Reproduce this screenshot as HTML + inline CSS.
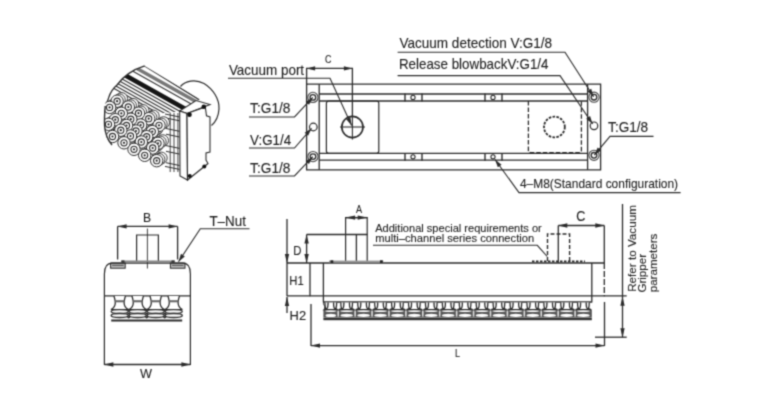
<!DOCTYPE html>
<html><head><meta charset="utf-8"><style>
html,body{margin:0;padding:0;background:#fff;}
svg{display:block;will-change:transform;}
text{font-family:"Liberation Sans",sans-serif;}
</style></head><body>
<svg width="780" height="420" viewBox="0 0 780 420">
<defs><filter id="bl" x="0" y="0" width="100%" height="100%" filterUnits="userSpaceOnUse" color-interpolation-filters="sRGB"><feConvolveMatrix order="3" kernelMatrix="0.03607 0.11778 0.03607 0.11778 0.38462 0.11778 0.03607 0.11778 0.03607" divisor="1" edgeMode="none" preserveAlpha="false"/></filter></defs>
<rect width="780" height="420" fill="#fff"/>
<g filter="url(#bl)">
<path d="M306.6,84.2 H600.6 V169.8 H306.6 Z" fill="none" stroke="#2b2b2b" stroke-width="1.3" />
<line x1="319.2" y1="84.2" x2="319.2" y2="169.8" stroke="#2b2b2b" stroke-width="1.3" />
<line x1="587.6" y1="84.2" x2="587.6" y2="169.8" stroke="#2b2b2b" stroke-width="1.3" />
<line x1="319.2" y1="94.0" x2="587.6" y2="94.0" stroke="#2b2b2b" stroke-width="1.3" />
<line x1="319.2" y1="101.0" x2="587.6" y2="101.0" stroke="#2b2b2b" stroke-width="1.3" />
<line x1="319.2" y1="153.4" x2="587.6" y2="153.4" stroke="#2b2b2b" stroke-width="1.3" />
<line x1="319.2" y1="160.2" x2="587.6" y2="160.2" stroke="#2b2b2b" stroke-width="1.3" />
<line x1="405" y1="93.5" x2="405" y2="101.5" stroke="#2b2b2b" stroke-width="1.4" />
<line x1="422" y1="93.5" x2="422" y2="101.5" stroke="#2b2b2b" stroke-width="1.4" />
<circle cx="413" cy="97.4" r="2.1" fill="none" stroke="#2b2b2b" stroke-width="1.1" />
<line x1="485" y1="93.5" x2="485" y2="101.5" stroke="#2b2b2b" stroke-width="1.4" />
<line x1="502" y1="93.5" x2="502" y2="101.5" stroke="#2b2b2b" stroke-width="1.4" />
<circle cx="493" cy="97.4" r="2.1" fill="none" stroke="#2b2b2b" stroke-width="1.1" />
<line x1="405" y1="152.9" x2="405" y2="160.7" stroke="#2b2b2b" stroke-width="1.4" />
<line x1="422" y1="152.9" x2="422" y2="160.7" stroke="#2b2b2b" stroke-width="1.4" />
<circle cx="413" cy="156.8" r="2.1" fill="none" stroke="#2b2b2b" stroke-width="1.1" />
<line x1="485" y1="152.9" x2="485" y2="160.7" stroke="#2b2b2b" stroke-width="1.4" />
<line x1="502" y1="152.9" x2="502" y2="160.7" stroke="#2b2b2b" stroke-width="1.4" />
<circle cx="493" cy="156.8" r="2.1" fill="none" stroke="#2b2b2b" stroke-width="1.1" />
<path d="M329,101 H376.5 Q378.8,101 378.8,103.3 V151 Q378.8,153.3 376.5,153.3 H328.7 Q326.4,153.3 326.4,151 V103.3 Q326.4,101 329,101 Z" fill="none" stroke="#2b2b2b" stroke-width="1.2" />
<circle cx="352.4" cy="127" r="10.6" fill="none" stroke="#2b2b2b" stroke-width="1.7" />
<line x1="340" y1="127" x2="365" y2="127" stroke="#2b2b2b" stroke-width="1.1" />
<line x1="352.4" y1="115" x2="352.4" y2="139.5" stroke="#2b2b2b" stroke-width="1.1" />
<path d="M528.4,101 V150.4 Q528.4,152.6 530.8,152.6 H579 Q581.4,152.6 581.4,150.4 V101" fill="none" stroke="#2b2b2b" stroke-width="1.3" stroke-dasharray="4.5,2"/>
<circle cx="554.4" cy="127" r="10.4" fill="none" stroke="#2b2b2b" stroke-width="1.8" stroke-dasharray="2.6,1.3"/>
<circle cx="312.9" cy="97.4" r="5.1" fill="none" stroke="#444" stroke-width="1.1" />
<circle cx="312.9" cy="97.4" r="2.8" fill="none" stroke="#2b2b2b" stroke-width="1.3" />
<circle cx="313.3" cy="127" r="3.8" fill="none" stroke="#2b2b2b" stroke-width="1.2" />
<circle cx="313" cy="156.6" r="5.1" fill="none" stroke="#444" stroke-width="1.1" />
<circle cx="313" cy="156.6" r="2.8" fill="none" stroke="#2b2b2b" stroke-width="1.3" />
<circle cx="594" cy="97.2" r="5.1" fill="none" stroke="#444" stroke-width="1.1" />
<circle cx="594" cy="97.2" r="2.8" fill="none" stroke="#2b2b2b" stroke-width="1.3" />
<circle cx="594" cy="125.8" r="3.8" fill="none" stroke="#2b2b2b" stroke-width="1.2" />
<circle cx="594" cy="155.3" r="5.1" fill="none" stroke="#444" stroke-width="1.1" />
<circle cx="594" cy="155.3" r="2.8" fill="none" stroke="#2b2b2b" stroke-width="1.3" />
<path d="M249,117.0 L294.5,117.0 L312.8,97.4" fill="none" stroke="#2b2b2b" stroke-width="1.1" />
<path d="M312.80,97.40 L309.02,104.82 L305.66,101.68 Z" fill="#2b2b2b"/>
<path d="M249,148.0 L294.5,148.0 L311.6,128.3" fill="none" stroke="#2b2b2b" stroke-width="1.1" />
<path d="M311.60,128.30 L308.09,135.85 L304.62,132.83 Z" fill="#2b2b2b"/>
<path d="M249,176.0 L294.5,176.0 L312.8,156.7" fill="none" stroke="#2b2b2b" stroke-width="1.1" />
<path d="M312.80,156.70 L308.96,164.09 L305.63,160.92 Z" fill="#2b2b2b"/>
<path d="M228,78.2 L330,78.2 L351.6,125.6" fill="none" stroke="#2b2b2b" stroke-width="1.1" />
<path d="M351.60,125.60 L346.19,119.27 L350.38,117.37 Z" fill="#2b2b2b"/>
<text x="228.9" y="75" font-size="14.1" fill="#1e1e1e" stroke="#1e1e1e" stroke-width="0.12" textLength="75.21" lengthAdjust="spacingAndGlyphs" >Vacuum port</text>
<text x="250.1" y="113.2" font-size="14.0" fill="#1e1e1e" stroke="#1e1e1e" stroke-width="0.12" textLength="40.31" lengthAdjust="spacingAndGlyphs" >T:G1/8</text>
<text x="250.1" y="144.5" font-size="14.0" fill="#1e1e1e" stroke="#1e1e1e" stroke-width="0.12" textLength="41.01" lengthAdjust="spacingAndGlyphs" >V:G1/4</text>
<text x="250.1" y="172.8" font-size="14.0" fill="#1e1e1e" stroke="#1e1e1e" stroke-width="0.12" textLength="40.31" lengthAdjust="spacingAndGlyphs" >T:G1/8</text>
<line x1="306.6" y1="67.8" x2="306.6" y2="84.2" stroke="#2b2b2b" stroke-width="1.3" />
<line x1="352.4" y1="67.8" x2="352.4" y2="116" stroke="#2b2b2b" stroke-width="1.3" />
<line x1="306.6" y1="68.4" x2="352.4" y2="68.4" stroke="#2b2b2b" stroke-width="1.3" />
<path d="M306.60,68.40 L315.10,66.20 L315.10,70.60 Z" fill="#2b2b2b"/>
<path d="M352.40,68.40 L343.90,70.60 L343.90,66.20 Z" fill="#2b2b2b"/>
<text x="324.9" y="63.2" font-size="10.3" fill="#1e1e1e" stroke="#1e1e1e" stroke-width="0.12" textLength="6.42" lengthAdjust="spacingAndGlyphs" >C</text>
<path d="M397.6,52.2 L565,52.2 L593.6,96.8" fill="none" stroke="#2b2b2b" stroke-width="1.1" />
<path d="M593.60,96.80 L587.35,91.31 L591.22,88.82 Z" fill="#2b2b2b"/>
<path d="M397.6,75.6 L560,75.6 L592.6,124.0" fill="none" stroke="#2b2b2b" stroke-width="1.1" />
<path d="M592.60,124.00 L586.22,118.65 L590.04,116.08 Z" fill="#2b2b2b"/>
<text x="399.5" y="47.9" font-size="13.9" fill="#1e1e1e" stroke="#1e1e1e" stroke-width="0.12" textLength="152.59" lengthAdjust="spacingAndGlyphs" >Vacuum detection V:G1/8</text>
<text x="398.9" y="69.2" font-size="13.9" fill="#1e1e1e" stroke="#1e1e1e" stroke-width="0.12" textLength="149.62" lengthAdjust="spacingAndGlyphs" >Release blowbackV:G1/4</text>
<path d="M653.5,136.4 L610,136.4 L594.3,155.1" fill="none" stroke="#2b2b2b" stroke-width="1.1" />
<path d="M594.30,155.10 L597.68,147.49 L601.21,150.45 Z" fill="#2b2b2b"/>
<text x="608.1" y="131.8" font-size="13.9" fill="#1e1e1e" stroke="#1e1e1e" stroke-width="0.12" textLength="40.01" lengthAdjust="spacingAndGlyphs" >T:G1/8</text>
<path d="M680.6,192.6 L519,192.6 L495,159.5" fill="none" stroke="#2b2b2b" stroke-width="1.1" />
<path d="M495.00,159.50 L501.56,164.63 L497.83,167.33 Z" fill="#2b2b2b"/>
<text x="519.9" y="188.2" font-size="13.2" fill="#1e1e1e" stroke="#1e1e1e" stroke-width="0.12" textLength="158.21" lengthAdjust="spacingAndGlyphs" >4–M8(Standard configuration)</text>
<line x1="117.6" y1="226.4" x2="177.6" y2="226.4" stroke="#2b2b2b" stroke-width="1.3" />
<path d="M117.60,226.40 L126.60,224.20 L126.60,228.60 Z" fill="#2b2b2b"/>
<path d="M177.60,226.40 L168.60,228.60 L168.60,224.20 Z" fill="#2b2b2b"/>
<line x1="117.6" y1="226.4" x2="117.6" y2="259.5" stroke="#2b2b2b" stroke-width="1.3" />
<line x1="177.6" y1="226.4" x2="177.6" y2="259.5" stroke="#2b2b2b" stroke-width="1.3" />
<text x="143.0" y="221.8" font-size="13.4" fill="#1e1e1e" stroke="#1e1e1e" stroke-width="0.12" textLength="8.12" lengthAdjust="spacingAndGlyphs" >B</text>
<path d="M136.6,261 V235 H158.4 V261" fill="none" stroke="#2b2b2b" stroke-width="1.2" />
<line x1="147.4" y1="228.5" x2="147.4" y2="268.5" stroke="#2b2b2b" stroke-width="0.9" />
<line x1="121" y1="261.4" x2="175" y2="261.4" stroke="#888" stroke-width="1.9" />
<rect x="121.5" y="260.4" width="3" height="2.2" fill="#333"/>
<rect x="171.5" y="260.4" width="3" height="2.2" fill="#333"/>
<rect x="110.6" y="263.0" width="14.6" height="5.2" fill="#bbb" stroke="#2b2b2b" stroke-width="1.0"/>
<line x1="112.1" y1="265.3" x2="123.6" y2="265.3" stroke="#2b2b2b" stroke-width="0.8" />
<rect x="170.4" y="263.0" width="14.6" height="5.2" fill="#bbb" stroke="#2b2b2b" stroke-width="1.0"/>
<line x1="171.9" y1="265.3" x2="183.4" y2="265.3" stroke="#2b2b2b" stroke-width="0.8" />
<path d="M104.4,365 V274 Q104.4,263.2 112,263.2 H183 Q190.4,263.2 190.4,274 V365" fill="none" stroke="#2b2b2b" stroke-width="1.2" />
<line x1="104.4" y1="295.9" x2="190.4" y2="295.9" stroke="#2b2b2b" stroke-width="1.4" />
<line x1="104.4" y1="364.5" x2="190.4" y2="364.5" stroke="#2b2b2b" stroke-width="1.3" />
<path d="M104.40,364.50 L113.40,362.30 L113.40,366.70 Z" fill="#2b2b2b"/>
<path d="M190.40,364.50 L181.40,366.70 L181.40,362.30 Z" fill="#2b2b2b"/>
<text x="140.0" y="378" font-size="12.6" fill="#1e1e1e" stroke="#1e1e1e" stroke-width="0.12" textLength="11.99" lengthAdjust="spacingAndGlyphs" >W</text>
<path d="M249.5,228.7 L200.3,228.7 L178.5,261.8" fill="none" stroke="#2b2b2b" stroke-width="1.1" />
<path d="M178.50,261.80 L180.98,253.85 L184.82,256.38 Z" fill="#2b2b2b"/>
<text x="209.4" y="225.7" font-size="13.9" fill="#1e1e1e" stroke="#1e1e1e" stroke-width="0.12" textLength="36.48" lengthAdjust="spacingAndGlyphs" >T–Nut</text>
<path d="M114.0,296 C114.7,299 115.4,300.5 115.3,303 C115.10000000000001,306.8 112.9,308.6 111.0,309.6 L128.4,309.6 C126.5,308.6 124.3,306.8 124.10000000000001,303 C124.0,300.5 124.7,299 125.4,296" fill="#fff" stroke="#2b2b2b" stroke-width="1.3" />
<rect x="114.9" y="300.2" width="9.6" height="2.1" fill="#666"/>
<ellipse cx="119.7" cy="311.5" rx="8.6" ry="1.9" fill="#fff" stroke="#2b2b2b" stroke-width="1.3"/>
<ellipse cx="119.7" cy="315.5" rx="8.6" ry="2.0" fill="#fff" stroke="#2b2b2b" stroke-width="1.3"/>
<path d="M132.0,296 C132.7,299 133.39999999999998,300.5 133.29999999999998,303 C133.1,306.8 130.89999999999998,308.6 129.0,309.6 L146.39999999999998,309.6 C144.5,308.6 142.29999999999998,306.8 142.1,303 C142.0,300.5 142.7,299 143.39999999999998,296" fill="#fff" stroke="#2b2b2b" stroke-width="1.3" />
<rect x="132.89999999999998" y="300.2" width="9.6" height="2.1" fill="#666"/>
<ellipse cx="137.7" cy="311.5" rx="8.6" ry="1.9" fill="#fff" stroke="#2b2b2b" stroke-width="1.3"/>
<ellipse cx="137.7" cy="315.5" rx="8.6" ry="2.0" fill="#fff" stroke="#2b2b2b" stroke-width="1.3"/>
<path d="M150.0,296 C150.7,299 151.39999999999998,300.5 151.29999999999998,303 C151.1,306.8 148.89999999999998,308.6 147.0,309.6 L164.39999999999998,309.6 C162.5,308.6 160.29999999999998,306.8 160.1,303 C160.0,300.5 160.7,299 161.39999999999998,296" fill="#fff" stroke="#2b2b2b" stroke-width="1.3" />
<rect x="150.89999999999998" y="300.2" width="9.6" height="2.1" fill="#666"/>
<ellipse cx="155.7" cy="311.5" rx="8.6" ry="1.9" fill="#fff" stroke="#2b2b2b" stroke-width="1.3"/>
<ellipse cx="155.7" cy="315.5" rx="8.6" ry="2.0" fill="#fff" stroke="#2b2b2b" stroke-width="1.3"/>
<path d="M168.0,296 C168.7,299 169.39999999999998,300.5 169.29999999999998,303 C169.1,306.8 166.89999999999998,308.6 165.0,309.6 L182.39999999999998,309.6 C180.5,308.6 178.29999999999998,306.8 178.1,303 C178.0,300.5 178.7,299 179.39999999999998,296" fill="#fff" stroke="#2b2b2b" stroke-width="1.3" />
<rect x="168.89999999999998" y="300.2" width="9.6" height="2.1" fill="#666"/>
<ellipse cx="173.7" cy="311.5" rx="8.6" ry="1.9" fill="#fff" stroke="#2b2b2b" stroke-width="1.3"/>
<ellipse cx="173.7" cy="315.5" rx="8.6" ry="2.0" fill="#fff" stroke="#2b2b2b" stroke-width="1.3"/>
<path d="M126.89999999999999,309.8 L128.7,308.7 L130.5,309.8 L128.7,310.90000000000003 Z" fill="#222"/>
<path d="M126.89999999999999,313.5 L128.7,312.4 L130.5,313.5 L128.7,314.6 Z" fill="#222"/>
<path d="M126.89999999999999,317.4 L128.7,316.29999999999995 L130.5,317.4 L128.7,318.5 Z" fill="#222"/>
<path d="M144.89999999999998,309.8 L146.7,308.7 L148.5,309.8 L146.7,310.90000000000003 Z" fill="#222"/>
<path d="M144.89999999999998,313.5 L146.7,312.4 L148.5,313.5 L146.7,314.6 Z" fill="#222"/>
<path d="M144.89999999999998,317.4 L146.7,316.29999999999995 L148.5,317.4 L146.7,318.5 Z" fill="#222"/>
<path d="M162.89999999999998,309.8 L164.7,308.7 L166.5,309.8 L164.7,310.90000000000003 Z" fill="#222"/>
<path d="M162.89999999999998,313.5 L164.7,312.4 L166.5,313.5 L164.7,314.6 Z" fill="#222"/>
<path d="M162.89999999999998,317.4 L164.7,316.29999999999995 L166.5,317.4 L164.7,318.5 Z" fill="#222"/>
<line x1="111.2" y1="320.4" x2="182.2" y2="320.4" stroke="#2b2b2b" stroke-width="2.0" />
<line x1="287" y1="263" x2="604.3" y2="263" stroke="#2b2b2b" stroke-width="1.3" />
<line x1="287" y1="295.9" x2="626.7" y2="295.9" stroke="#2b2b2b" stroke-width="1.3" />
<line x1="287" y1="219" x2="287" y2="296.3" stroke="#2b2b2b" stroke-width="1.3" />
<path d="M287.00,263.00 L284.80,254.00 L289.20,254.00 Z" fill="#2b2b2b"/>
<path d="M287.00,297.00 L289.20,306.00 L284.80,306.00 Z" fill="#2b2b2b"/>
<line x1="287" y1="297" x2="287" y2="313" stroke="#2b2b2b" stroke-width="1.3" />
<text x="293.3" y="254.6" font-size="13.2" fill="#1e1e1e" stroke="#1e1e1e" stroke-width="0.12" textLength="8.22" lengthAdjust="spacingAndGlyphs" >D</text>
<text x="289.3" y="284.8" font-size="12.2" fill="#1e1e1e" stroke="#1e1e1e" stroke-width="0.12" textLength="14.38" lengthAdjust="spacingAndGlyphs" >H1</text>
<text x="289.6" y="320.4" font-size="12.0" fill="#1e1e1e" stroke="#1e1e1e" stroke-width="0.12" textLength="16.48" lengthAdjust="spacingAndGlyphs" >H2</text>
<line x1="306.6" y1="234.5" x2="367.4" y2="234.5" stroke="#2b2b2b" stroke-width="1.3" />
<line x1="306.6" y1="234.5" x2="306.6" y2="263" stroke="#2b2b2b" stroke-width="1.3" />
<path d="M306.60,234.50 L308.80,243.50 L304.40,243.50 Z" fill="#2b2b2b"/>
<path d="M306.60,263.00 L304.40,254.00 L308.80,254.00 Z" fill="#2b2b2b"/>
<line x1="310" y1="263" x2="310" y2="296.3" stroke="#2b2b2b" stroke-width="1.3" />
<line x1="323.4" y1="263" x2="323.4" y2="302" stroke="#2b2b2b" stroke-width="1.3" />
<line x1="591.8" y1="263" x2="591.8" y2="302.5" stroke="#2b2b2b" stroke-width="1.3" />
<line x1="604.3" y1="225.5" x2="604.3" y2="263" stroke="#2b2b2b" stroke-width="1.3" />
<line x1="604.3" y1="263" x2="604.3" y2="296.3" stroke="#2b2b2b" stroke-width="1.3" stroke-dasharray="6,2"/>
<line x1="323.4" y1="302" x2="591.8" y2="302" stroke="#2b2b2b" stroke-width="1.3" />
<path d="M345.6,262 V217.6 H367.2 V262" fill="none" stroke="#2b2b2b" stroke-width="1.2" />
<line x1="356.4" y1="234.5" x2="356.4" y2="262" stroke="#2b2b2b" stroke-width="1.3" />
<rect x="329" y="260.6" width="54.3" height="2.0" fill="#999"/>
<rect x="330.5" y="260.3" width="2.8" height="2.6" fill="#222"/>
<rect x="380" y="260.3" width="2.8" height="2.6" fill="#222"/>
<line x1="345.6" y1="217.6" x2="367.2" y2="217.6" stroke="#2b2b2b" stroke-width="1.3" />
<path d="M345.60,217.60 L355.10,215.50 L355.10,219.70 Z" fill="#2b2b2b"/>
<path d="M367.20,217.60 L357.70,219.70 L357.70,215.50 Z" fill="#2b2b2b"/>
<text x="356.0" y="213" font-size="10.2" fill="#1e1e1e" stroke="#1e1e1e" stroke-width="0.12" textLength="6.07" lengthAdjust="spacingAndGlyphs" >A</text>
<line x1="311" y1="304" x2="311" y2="346" stroke="#2b2b2b" stroke-width="1.3" />
<line x1="604.5" y1="302" x2="604.5" y2="346" stroke="#2b2b2b" stroke-width="1.3" />
<line x1="311" y1="345.6" x2="604.5" y2="345.6" stroke="#2b2b2b" stroke-width="1.2" />
<path d="M311.00,345.60 L320.00,343.40 L320.00,347.80 Z" fill="#2b2b2b"/>
<path d="M604.50,345.60 L595.50,347.80 L595.50,343.40 Z" fill="#2b2b2b"/>
<text x="455.1" y="357.4" font-size="10.0" fill="#1e1e1e" stroke="#1e1e1e" stroke-width="0.12" textLength="5.01" lengthAdjust="spacingAndGlyphs" >L</text>
<line x1="558.3" y1="225.5" x2="558.3" y2="262.8" stroke="#2b2b2b" stroke-width="1.3" />
<line x1="558.3" y1="225.5" x2="604.3" y2="225.5" stroke="#2b2b2b" stroke-width="1.3" />
<path d="M558.30,225.50 L567.30,223.30 L567.30,227.70 Z" fill="#2b2b2b"/>
<path d="M604.30,225.50 L595.30,227.70 L595.30,223.30 Z" fill="#2b2b2b"/>
<text x="576.3" y="220.6" font-size="13.8" fill="#1e1e1e" stroke="#1e1e1e" stroke-width="0.12" textLength="9.13" lengthAdjust="spacingAndGlyphs" >C</text>
<path d="M547.5,261 V234 H569.6 V261" fill="none" stroke="#2b2b2b" stroke-width="1.4" stroke-dasharray="4,2"/>
<line x1="532" y1="261.3" x2="585" y2="261.3" stroke="#2b2b2b" stroke-width="1.8" stroke-dasharray="2.5,1.5"/>
<text x="375.2" y="231.8" font-size="11.7" fill="#1e1e1e" stroke="#1e1e1e" stroke-width="0.12" textLength="166.59" lengthAdjust="spacingAndGlyphs" >Additional special requirements or</text>
<text x="375.2" y="242.2" font-size="11.7" fill="#1e1e1e" stroke="#1e1e1e" stroke-width="0.12" textLength="159.01" lengthAdjust="spacingAndGlyphs" >multi–channel series connection</text>
<path d="M373,245.3 L537.3,245.3 L547.2,256.5" fill="none" stroke="#2b2b2b" stroke-width="1.1" />
<line x1="622.5" y1="204" x2="622.5" y2="337.2" stroke="#2b2b2b" stroke-width="1.3" />
<path d="M622.50,296.80 L624.70,305.80 L620.30,305.80 Z" fill="#2b2b2b"/>
<path d="M622.50,337.20 L620.30,328.20 L624.70,328.20 Z" fill="#2b2b2b"/>
<line x1="595" y1="337.2" x2="626.7" y2="337.2" stroke="#2b2b2b" stroke-width="1.3" />
<g transform="translate(636.3,292.1) rotate(-90)"><text x="0.3" y="0" font-size="11.6" fill="#1e1e1e" stroke="#1e1e1e" stroke-width="0.12" textLength="86.69" lengthAdjust="spacingAndGlyphs">Refer to Vacuum</text></g>
<g transform="translate(646.4,292.9) rotate(-90)"><text x="0.3" y="0" font-size="11.6" fill="#1e1e1e" stroke="#1e1e1e" stroke-width="0.12" textLength="38.7" lengthAdjust="spacingAndGlyphs">Gripper</text></g>
<g transform="translate(656.8,292.6) rotate(-90)"><text x="0.3" y="0" font-size="11.6" fill="#1e1e1e" stroke="#1e1e1e" stroke-width="0.12" textLength="58.67" lengthAdjust="spacingAndGlyphs">parameters</text></g>
<rect x="323.4" y="309.4" width="268.4" height="8.2" fill="#555"/>
<path d="M327.80,302.4 C327.80,306.5 325.80,308.6 324.20,309.6 L337.40,309.6 C335.80,308.6 333.80,306.5 333.80,302.4" fill="#fff" stroke="#2b2b2b" stroke-width="1.1" />
<ellipse cx="330.80" cy="311.1" rx="5.80" ry="0.85" fill="#fff"/>
<ellipse cx="330.80" cy="315.4" rx="5.30" ry="1.7" fill="#fff"/>
<path d="M325.00,302.6 C324.90,307 325.50,308.6 326.50,308.6 C327.50,308.6 328.10,307 328.00,302.6" fill="#fff" stroke="#2b2b2b" stroke-width="1.3"/>
<path d="M333.60,302.6 C333.50,307 334.10,308.6 335.10,308.6 C336.10,308.6 336.70,307 336.60,302.6" fill="#fff" stroke="#2b2b2b" stroke-width="1.3"/>
<path d="M343.66,302.4 C343.66,306.5 341.66,308.6 339.06,309.6 L354.26,309.6 C351.66,308.6 349.66,306.5 349.66,302.4" fill="#fff" stroke="#2b2b2b" stroke-width="1.1" />
<ellipse cx="346.66" cy="311.1" rx="6.80" ry="0.85" fill="#fff"/>
<ellipse cx="346.66" cy="315.4" rx="6.30" ry="1.7" fill="#fff"/>
<path d="M340.86,302.6 C340.76,307 341.36,308.6 342.36,308.6 C343.36,308.6 343.96,307 343.86,302.6" fill="#fff" stroke="#2b2b2b" stroke-width="1.3"/>
<path d="M349.46,302.6 C349.36,307 349.96,308.6 350.96,308.6 C351.96,308.6 352.56,307 352.46,302.6" fill="#fff" stroke="#2b2b2b" stroke-width="1.3"/>
<path d="M360.58,302.4 C360.58,306.5 358.58,308.6 355.98,309.6 L371.18,309.6 C368.58,308.6 366.58,306.5 366.58,302.4" fill="#fff" stroke="#2b2b2b" stroke-width="1.1" />
<ellipse cx="363.58" cy="311.1" rx="6.80" ry="0.85" fill="#fff"/>
<ellipse cx="363.58" cy="315.4" rx="6.30" ry="1.7" fill="#fff"/>
<path d="M357.78,302.6 C357.68,307 358.28,308.6 359.28,308.6 C360.28,308.6 360.88,307 360.78,302.6" fill="#fff" stroke="#2b2b2b" stroke-width="1.3"/>
<path d="M366.38,302.6 C366.28,307 366.88,308.6 367.88,308.6 C368.88,308.6 369.48,307 369.38,302.6" fill="#fff" stroke="#2b2b2b" stroke-width="1.3"/>
<path d="M377.50,302.4 C377.50,306.5 375.50,308.6 372.90,309.6 L388.10,309.6 C385.50,308.6 383.50,306.5 383.50,302.4" fill="#fff" stroke="#2b2b2b" stroke-width="1.1" />
<ellipse cx="380.50" cy="311.1" rx="6.80" ry="0.85" fill="#fff"/>
<ellipse cx="380.50" cy="315.4" rx="6.30" ry="1.7" fill="#fff"/>
<path d="M374.70,302.6 C374.60,307 375.20,308.6 376.20,308.6 C377.20,308.6 377.80,307 377.70,302.6" fill="#fff" stroke="#2b2b2b" stroke-width="1.3"/>
<path d="M383.30,302.6 C383.20,307 383.80,308.6 384.80,308.6 C385.80,308.6 386.40,307 386.30,302.6" fill="#fff" stroke="#2b2b2b" stroke-width="1.3"/>
<path d="M394.42,302.4 C394.42,306.5 392.42,308.6 389.82,309.6 L405.02,309.6 C402.42,308.6 400.42,306.5 400.42,302.4" fill="#fff" stroke="#2b2b2b" stroke-width="1.1" />
<ellipse cx="397.42" cy="311.1" rx="6.80" ry="0.85" fill="#fff"/>
<ellipse cx="397.42" cy="315.4" rx="6.30" ry="1.7" fill="#fff"/>
<path d="M391.62,302.6 C391.52,307 392.12,308.6 393.12,308.6 C394.12,308.6 394.72,307 394.62,302.6" fill="#fff" stroke="#2b2b2b" stroke-width="1.3"/>
<path d="M400.22,302.6 C400.12,307 400.72,308.6 401.72,308.6 C402.72,308.6 403.32,307 403.22,302.6" fill="#fff" stroke="#2b2b2b" stroke-width="1.3"/>
<path d="M411.34,302.4 C411.34,306.5 409.34,308.6 406.74,309.6 L421.94,309.6 C419.34,308.6 417.34,306.5 417.34,302.4" fill="#fff" stroke="#2b2b2b" stroke-width="1.1" />
<ellipse cx="414.34" cy="311.1" rx="6.80" ry="0.85" fill="#fff"/>
<ellipse cx="414.34" cy="315.4" rx="6.30" ry="1.7" fill="#fff"/>
<path d="M408.54,302.6 C408.44,307 409.04,308.6 410.04,308.6 C411.04,308.6 411.64,307 411.54,302.6" fill="#fff" stroke="#2b2b2b" stroke-width="1.3"/>
<path d="M417.14,302.6 C417.04,307 417.64,308.6 418.64,308.6 C419.64,308.6 420.24,307 420.14,302.6" fill="#fff" stroke="#2b2b2b" stroke-width="1.3"/>
<path d="M428.26,302.4 C428.26,306.5 426.26,308.6 423.66,309.6 L438.86,309.6 C436.26,308.6 434.26,306.5 434.26,302.4" fill="#fff" stroke="#2b2b2b" stroke-width="1.1" />
<ellipse cx="431.26" cy="311.1" rx="6.80" ry="0.85" fill="#fff"/>
<ellipse cx="431.26" cy="315.4" rx="6.30" ry="1.7" fill="#fff"/>
<path d="M425.46,302.6 C425.36,307 425.96,308.6 426.96,308.6 C427.96,308.6 428.56,307 428.46,302.6" fill="#fff" stroke="#2b2b2b" stroke-width="1.3"/>
<path d="M434.06,302.6 C433.96,307 434.56,308.6 435.56,308.6 C436.56,308.6 437.16,307 437.06,302.6" fill="#fff" stroke="#2b2b2b" stroke-width="1.3"/>
<path d="M445.18,302.4 C445.18,306.5 443.18,308.6 440.58,309.6 L455.78,309.6 C453.18,308.6 451.18,306.5 451.18,302.4" fill="#fff" stroke="#2b2b2b" stroke-width="1.1" />
<ellipse cx="448.18" cy="311.1" rx="6.80" ry="0.85" fill="#fff"/>
<ellipse cx="448.18" cy="315.4" rx="6.30" ry="1.7" fill="#fff"/>
<path d="M442.38,302.6 C442.28,307 442.88,308.6 443.88,308.6 C444.88,308.6 445.48,307 445.38,302.6" fill="#fff" stroke="#2b2b2b" stroke-width="1.3"/>
<path d="M450.98,302.6 C450.88,307 451.48,308.6 452.48,308.6 C453.48,308.6 454.08,307 453.98,302.6" fill="#fff" stroke="#2b2b2b" stroke-width="1.3"/>
<path d="M462.10,302.4 C462.10,306.5 460.10,308.6 457.50,309.6 L472.70,309.6 C470.10,308.6 468.10,306.5 468.10,302.4" fill="#fff" stroke="#2b2b2b" stroke-width="1.1" />
<ellipse cx="465.10" cy="311.1" rx="6.80" ry="0.85" fill="#fff"/>
<ellipse cx="465.10" cy="315.4" rx="6.30" ry="1.7" fill="#fff"/>
<path d="M459.30,302.6 C459.20,307 459.80,308.6 460.80,308.6 C461.80,308.6 462.40,307 462.30,302.6" fill="#fff" stroke="#2b2b2b" stroke-width="1.3"/>
<path d="M467.90,302.6 C467.80,307 468.40,308.6 469.40,308.6 C470.40,308.6 471.00,307 470.90,302.6" fill="#fff" stroke="#2b2b2b" stroke-width="1.3"/>
<path d="M479.02,302.4 C479.02,306.5 477.02,308.6 474.42,309.6 L489.62,309.6 C487.02,308.6 485.02,306.5 485.02,302.4" fill="#fff" stroke="#2b2b2b" stroke-width="1.1" />
<ellipse cx="482.02" cy="311.1" rx="6.80" ry="0.85" fill="#fff"/>
<ellipse cx="482.02" cy="315.4" rx="6.30" ry="1.7" fill="#fff"/>
<path d="M476.22,302.6 C476.12,307 476.72,308.6 477.72,308.6 C478.72,308.6 479.32,307 479.22,302.6" fill="#fff" stroke="#2b2b2b" stroke-width="1.3"/>
<path d="M484.82,302.6 C484.72,307 485.32,308.6 486.32,308.6 C487.32,308.6 487.92,307 487.82,302.6" fill="#fff" stroke="#2b2b2b" stroke-width="1.3"/>
<path d="M495.94,302.4 C495.94,306.5 493.94,308.6 491.34,309.6 L506.54,309.6 C503.94,308.6 501.94,306.5 501.94,302.4" fill="#fff" stroke="#2b2b2b" stroke-width="1.1" />
<ellipse cx="498.94" cy="311.1" rx="6.80" ry="0.85" fill="#fff"/>
<ellipse cx="498.94" cy="315.4" rx="6.30" ry="1.7" fill="#fff"/>
<path d="M493.14,302.6 C493.04,307 493.64,308.6 494.64,308.6 C495.64,308.6 496.24,307 496.14,302.6" fill="#fff" stroke="#2b2b2b" stroke-width="1.3"/>
<path d="M501.74,302.6 C501.64,307 502.24,308.6 503.24,308.6 C504.24,308.6 504.84,307 504.74,302.6" fill="#fff" stroke="#2b2b2b" stroke-width="1.3"/>
<path d="M512.86,302.4 C512.86,306.5 510.86,308.6 508.26,309.6 L523.46,309.6 C520.86,308.6 518.86,306.5 518.86,302.4" fill="#fff" stroke="#2b2b2b" stroke-width="1.1" />
<ellipse cx="515.86" cy="311.1" rx="6.80" ry="0.85" fill="#fff"/>
<ellipse cx="515.86" cy="315.4" rx="6.30" ry="1.7" fill="#fff"/>
<path d="M510.06,302.6 C509.96,307 510.56,308.6 511.56,308.6 C512.56,308.6 513.16,307 513.06,302.6" fill="#fff" stroke="#2b2b2b" stroke-width="1.3"/>
<path d="M518.66,302.6 C518.56,307 519.16,308.6 520.16,308.6 C521.16,308.6 521.76,307 521.66,302.6" fill="#fff" stroke="#2b2b2b" stroke-width="1.3"/>
<path d="M529.78,302.4 C529.78,306.5 527.78,308.6 525.18,309.6 L540.38,309.6 C537.78,308.6 535.78,306.5 535.78,302.4" fill="#fff" stroke="#2b2b2b" stroke-width="1.1" />
<ellipse cx="532.78" cy="311.1" rx="6.80" ry="0.85" fill="#fff"/>
<ellipse cx="532.78" cy="315.4" rx="6.30" ry="1.7" fill="#fff"/>
<path d="M526.98,302.6 C526.88,307 527.48,308.6 528.48,308.6 C529.48,308.6 530.08,307 529.98,302.6" fill="#fff" stroke="#2b2b2b" stroke-width="1.3"/>
<path d="M535.58,302.6 C535.48,307 536.08,308.6 537.08,308.6 C538.08,308.6 538.68,307 538.58,302.6" fill="#fff" stroke="#2b2b2b" stroke-width="1.3"/>
<path d="M546.70,302.4 C546.70,306.5 544.70,308.6 542.10,309.6 L557.30,309.6 C554.70,308.6 552.70,306.5 552.70,302.4" fill="#fff" stroke="#2b2b2b" stroke-width="1.1" />
<ellipse cx="549.70" cy="311.1" rx="6.80" ry="0.85" fill="#fff"/>
<ellipse cx="549.70" cy="315.4" rx="6.30" ry="1.7" fill="#fff"/>
<path d="M543.90,302.6 C543.80,307 544.40,308.6 545.40,308.6 C546.40,308.6 547.00,307 546.90,302.6" fill="#fff" stroke="#2b2b2b" stroke-width="1.3"/>
<path d="M552.50,302.6 C552.40,307 553.00,308.6 554.00,308.6 C555.00,308.6 555.60,307 555.50,302.6" fill="#fff" stroke="#2b2b2b" stroke-width="1.3"/>
<path d="M563.62,302.4 C563.62,306.5 561.62,308.6 559.02,309.6 L574.22,309.6 C571.62,308.6 569.62,306.5 569.62,302.4" fill="#fff" stroke="#2b2b2b" stroke-width="1.1" />
<ellipse cx="566.62" cy="311.1" rx="6.80" ry="0.85" fill="#fff"/>
<ellipse cx="566.62" cy="315.4" rx="6.30" ry="1.7" fill="#fff"/>
<path d="M560.82,302.6 C560.72,307 561.32,308.6 562.32,308.6 C563.32,308.6 563.92,307 563.82,302.6" fill="#fff" stroke="#2b2b2b" stroke-width="1.3"/>
<path d="M569.42,302.6 C569.32,307 569.92,308.6 570.92,308.6 C571.92,308.6 572.52,307 572.42,302.6" fill="#fff" stroke="#2b2b2b" stroke-width="1.3"/>
<path d="M580.40,302.4 C580.40,306.5 578.40,308.6 575.80,309.6 L591.00,309.6 C588.40,308.6 586.40,306.5 586.40,302.4" fill="#fff" stroke="#2b2b2b" stroke-width="1.1" />
<ellipse cx="583.40" cy="311.1" rx="6.80" ry="0.85" fill="#fff"/>
<ellipse cx="583.40" cy="315.4" rx="6.30" ry="1.7" fill="#fff"/>
<path d="M577.60,302.6 C577.50,307 578.10,308.6 579.10,308.6 C580.10,308.6 580.70,307 580.60,302.6" fill="#fff" stroke="#2b2b2b" stroke-width="1.3"/>
<path d="M586.20,302.6 C586.10,307 586.70,308.6 587.70,308.6 C588.70,308.6 589.30,307 589.20,302.6" fill="#fff" stroke="#2b2b2b" stroke-width="1.3"/>
<rect x="337.40" y="310.6" width="1.6" height="6" fill="#ddd"/>
<rect x="354.32" y="310.6" width="1.6" height="6" fill="#ddd"/>
<rect x="371.24" y="310.6" width="1.6" height="6" fill="#ddd"/>
<rect x="388.16" y="310.6" width="1.6" height="6" fill="#ddd"/>
<rect x="405.08" y="310.6" width="1.6" height="6" fill="#ddd"/>
<rect x="422.00" y="310.6" width="1.6" height="6" fill="#ddd"/>
<rect x="438.92" y="310.6" width="1.6" height="6" fill="#ddd"/>
<rect x="455.84" y="310.6" width="1.6" height="6" fill="#ddd"/>
<rect x="472.76" y="310.6" width="1.6" height="6" fill="#ddd"/>
<rect x="489.68" y="310.6" width="1.6" height="6" fill="#ddd"/>
<rect x="506.60" y="310.6" width="1.6" height="6" fill="#ddd"/>
<rect x="523.52" y="310.6" width="1.6" height="6" fill="#ddd"/>
<rect x="540.44" y="310.6" width="1.6" height="6" fill="#ddd"/>
<rect x="557.36" y="310.6" width="1.6" height="6" fill="#ddd"/>
<rect x="574.28" y="310.6" width="1.6" height="6" fill="#ddd"/>
<rect x="323.4" y="317.8" width="268.4" height="2.4" fill="#333"/>
<path d="M323.4,302 L323.4,303.5 Q325.5,306 324.6,310.2" fill="none" stroke="#2b2b2b" stroke-width="1.0" />
<path d="M180.5,86.5 C185,81 195,78.5 204,83.5 C213,89 219.5,99 219,109 C218.5,117 215,122.5 211.5,125.5" fill="none" stroke="#2b2b2b" stroke-width="1.2" />
<clipPath id="rc"><path d="M144.7,65.9 L200,99 L185,111 L165,113 L100,113 L100,100 L108.6,97.9 Q111,90 117,85 Q122,78 128.6,73.6 Q136,68.5 144.7,65.9 Z"/></clipPath>
<g clip-path="url(#rc)">
<line x1="95" y1="35.10" x2="215" y2="109.50" stroke="#2b2b2b" stroke-width="1.4"/>
<line x1="95" y1="45.00" x2="215" y2="112.20" stroke="#777" stroke-width="3.4"/>
<line x1="95" y1="50.00" x2="215" y2="117.20" stroke="#2b2b2b" stroke-width="1.1"/>
<line x1="95" y1="58.40" x2="215" y2="125.60" stroke="#151515" stroke-width="4.6"/>
<line x1="95" y1="63.80" x2="215" y2="131.00" stroke="#2b2b2b" stroke-width="1.1"/>
<line x1="95" y1="67.30" x2="215" y2="134.50" stroke="#2b2b2b" stroke-width="1.1"/>
<line x1="95" y1="70.80" x2="215" y2="138.00" stroke="#2b2b2b" stroke-width="1.1"/>
<line x1="95" y1="74.30" x2="215" y2="141.50" stroke="#2b2b2b" stroke-width="1.1"/>
<line x1="95" y1="77.80" x2="215" y2="145.00" stroke="#2b2b2b" stroke-width="1.1"/>
</g>
<path d="M144.7,65.9 Q136,68.5 128.6,73.6 Q122,78 117,85 Q111,90 108.6,97.9 Q105.5,105 105.2,112" fill="none" stroke="#2b2b2b" stroke-width="1.3" />
<line x1="165" y1="114.0" x2="179.6" y2="117.0" stroke="#2b2b2b" stroke-width="1.0" />
<line x1="165" y1="117.8" x2="179.6" y2="120.8" stroke="#2b2b2b" stroke-width="1.0" />
<line x1="165" y1="128.3" x2="179.6" y2="131.3" stroke="#2b2b2b" stroke-width="1.0" />
<line x1="165" y1="134.0" x2="179.6" y2="137.0" stroke="#2b2b2b" stroke-width="1.0" />
<line x1="165" y1="145.4" x2="179.6" y2="148.4" stroke="#2b2b2b" stroke-width="1.0" />
<line x1="165" y1="151.1" x2="179.6" y2="154.1" stroke="#2b2b2b" stroke-width="1.0" />
<line x1="165" y1="162.5" x2="179.6" y2="165.5" stroke="#2b2b2b" stroke-width="1.0" />
<line x1="165" y1="166.4" x2="179.6" y2="169.4" stroke="#2b2b2b" stroke-width="1.0" />
<line x1="170.2" y1="113" x2="170.2" y2="172" stroke="#2b2b2b" stroke-width="0.9" />
<line x1="174" y1="113" x2="174" y2="172" stroke="#2b2b2b" stroke-width="0.9" />
<line x1="177.9" y1="113" x2="177.9" y2="172" stroke="#2b2b2b" stroke-width="0.9" />
<path d="M113,93 Q104.5,104 104.5,123.6 Q105.2,137 112.5,143.8 L150,166.8 Q159,170.5 166,164 L166,121 L150,111 L122,95 Z" fill="#fff"/>
<clipPath id="cf"><path d="M110,88 Q104.6,100 104.4,112 Q104.2,124 105,132 Q106.5,140 112,146 L135,175 L175,175 L175,88 Z"/></clipPath>
<g clip-path="url(#cf)">
<circle cx="163.6" cy="122.6" r="5.9" fill="#fff" stroke="#2b2b2b" stroke-width="0.9" />
<circle cx="161.3" cy="123.95" r="5.9" fill="#fff" stroke="#2b2b2b" stroke-width="0.9" />
<circle cx="153.29999999999998" cy="116.0" r="5.9" fill="#fff" stroke="#2b2b2b" stroke-width="0.9" />
<circle cx="151.0" cy="117.35000000000001" r="5.9" fill="#fff" stroke="#2b2b2b" stroke-width="0.9" />
<circle cx="156.9" cy="128.9" r="5.9" fill="#fff" stroke="#2b2b2b" stroke-width="0.9" />
<circle cx="154.60000000000002" cy="130.25" r="5.9" fill="#fff" stroke="#2b2b2b" stroke-width="0.9" />
<circle cx="162.6" cy="140.60000000000002" r="5.9" fill="#fff" stroke="#2b2b2b" stroke-width="0.9" />
<circle cx="160.3" cy="141.95000000000002" r="5.9" fill="#fff" stroke="#2b2b2b" stroke-width="0.9" />
<circle cx="143.1" cy="110.5" r="5.9" fill="#fff" stroke="#2b2b2b" stroke-width="0.9" />
<circle cx="140.8" cy="111.85000000000001" r="5.9" fill="#fff" stroke="#2b2b2b" stroke-width="0.9" />
<circle cx="145.29999999999998" cy="122.3" r="5.9" fill="#fff" stroke="#2b2b2b" stroke-width="0.9" />
<circle cx="143.0" cy="123.65" r="5.9" fill="#fff" stroke="#2b2b2b" stroke-width="0.9" />
<circle cx="151.29999999999998" cy="134.0" r="5.9" fill="#fff" stroke="#2b2b2b" stroke-width="0.9" />
<circle cx="149.0" cy="135.35" r="5.9" fill="#fff" stroke="#2b2b2b" stroke-width="0.9" />
<circle cx="132.9" cy="104.3" r="5.9" fill="#fff" stroke="#2b2b2b" stroke-width="0.9" />
<circle cx="130.60000000000002" cy="105.65" r="5.9" fill="#fff" stroke="#2b2b2b" stroke-width="0.9" />
<circle cx="157.29999999999998" cy="145.3" r="5.9" fill="#fff" stroke="#2b2b2b" stroke-width="0.9" />
<circle cx="155.0" cy="146.65" r="5.9" fill="#fff" stroke="#2b2b2b" stroke-width="0.9" />
<circle cx="161.29999999999998" cy="158.0" r="5.9" fill="#fff" stroke="#2b2b2b" stroke-width="0.9" />
<circle cx="159.0" cy="159.35" r="5.9" fill="#fff" stroke="#2b2b2b" stroke-width="0.9" />
<circle cx="135.4" cy="116.5" r="5.9" fill="#fff" stroke="#2b2b2b" stroke-width="0.9" />
<circle cx="133.10000000000002" cy="117.85000000000001" r="5.9" fill="#fff" stroke="#2b2b2b" stroke-width="0.9" />
<circle cx="140.6" cy="128.3" r="5.9" fill="#fff" stroke="#2b2b2b" stroke-width="0.9" />
<circle cx="138.3" cy="129.65" r="5.9" fill="#fff" stroke="#2b2b2b" stroke-width="0.9" />
<circle cx="121.69999999999999" cy="98.5" r="5.9" fill="#fff" stroke="#2b2b2b" stroke-width="0.9" />
<circle cx="119.39999999999999" cy="99.85000000000001" r="5.9" fill="#fff" stroke="#2b2b2b" stroke-width="0.9" />
<circle cx="145.9" cy="139.3" r="5.9" fill="#fff" stroke="#2b2b2b" stroke-width="0.9" />
<circle cx="143.60000000000002" cy="140.65" r="5.9" fill="#fff" stroke="#2b2b2b" stroke-width="0.9" />
<circle cx="125.89999999999999" cy="110.6" r="5.9" fill="#fff" stroke="#2b2b2b" stroke-width="0.9" />
<circle cx="123.6" cy="111.95" r="5.9" fill="#fff" stroke="#2b2b2b" stroke-width="0.9" />
<circle cx="149.29999999999998" cy="152.60000000000002" r="5.9" fill="#fff" stroke="#2b2b2b" stroke-width="0.9" />
<circle cx="147.0" cy="153.95000000000002" r="5.9" fill="#fff" stroke="#2b2b2b" stroke-width="0.9" />
<circle cx="131.1" cy="122.8" r="5.9" fill="#fff" stroke="#2b2b2b" stroke-width="0.9" />
<circle cx="128.8" cy="124.15" r="5.9" fill="#fff" stroke="#2b2b2b" stroke-width="0.9" />
<circle cx="135.1" cy="133.3" r="5.9" fill="#fff" stroke="#2b2b2b" stroke-width="0.9" />
<circle cx="132.8" cy="134.65" r="5.9" fill="#fff" stroke="#2b2b2b" stroke-width="0.9" />
<circle cx="114.19999999999999" cy="104.7" r="5.9" fill="#fff" stroke="#2b2b2b" stroke-width="0.9" />
<circle cx="111.89999999999999" cy="106.05000000000001" r="5.9" fill="#fff" stroke="#2b2b2b" stroke-width="0.9" />
<circle cx="138.6" cy="146.60000000000002" r="5.9" fill="#fff" stroke="#2b2b2b" stroke-width="0.9" />
<circle cx="136.3" cy="147.95000000000002" r="5.9" fill="#fff" stroke="#2b2b2b" stroke-width="0.9" />
<circle cx="119.89999999999999" cy="117.0" r="5.9" fill="#fff" stroke="#2b2b2b" stroke-width="0.9" />
<circle cx="117.6" cy="118.35000000000001" r="5.9" fill="#fff" stroke="#2b2b2b" stroke-width="0.9" />
<circle cx="125.39999999999999" cy="127.49999999999999" r="5.9" fill="#fff" stroke="#2b2b2b" stroke-width="0.9" />
<circle cx="123.1" cy="128.85" r="5.9" fill="#fff" stroke="#2b2b2b" stroke-width="0.9" />
<circle cx="128.6" cy="140.10000000000002" r="5.9" fill="#fff" stroke="#2b2b2b" stroke-width="0.9" />
<circle cx="126.3" cy="141.45000000000002" r="5.9" fill="#fff" stroke="#2b2b2b" stroke-width="0.9" />
<circle cx="113.1" cy="121.6" r="5.9" fill="#fff" stroke="#2b2b2b" stroke-width="0.9" />
<circle cx="110.8" cy="122.95" r="5.9" fill="#fff" stroke="#2b2b2b" stroke-width="0.9" />
<circle cx="117.1" cy="133.8" r="5.9" fill="#fff" stroke="#2b2b2b" stroke-width="0.9" />
<circle cx="114.8" cy="135.15" r="5.9" fill="#fff" stroke="#2b2b2b" stroke-width="0.9" />
<circle cx="159" cy="125.3" r="6.2" fill="#fff" stroke="#2b2b2b" stroke-width="1.0" />
<circle cx="159" cy="125.3" r="3.1" fill="#fff" stroke="#2b2b2b" stroke-width="1.1" />
<circle cx="159" cy="125.3" r="1.1" fill="#222" stroke="#2b2b2b" stroke-width="0" />
<circle cx="148.7" cy="118.7" r="6.2" fill="#fff" stroke="#2b2b2b" stroke-width="1.0" />
<circle cx="148.7" cy="118.7" r="3.1" fill="#fff" stroke="#2b2b2b" stroke-width="1.1" />
<circle cx="148.7" cy="118.7" r="1.1" fill="#222" stroke="#2b2b2b" stroke-width="0" />
<circle cx="152.3" cy="131.6" r="6.2" fill="#fff" stroke="#2b2b2b" stroke-width="1.0" />
<circle cx="152.3" cy="131.6" r="3.1" fill="#fff" stroke="#2b2b2b" stroke-width="1.1" />
<circle cx="152.3" cy="131.6" r="1.1" fill="#222" stroke="#2b2b2b" stroke-width="0" />
<circle cx="158" cy="143.3" r="6.2" fill="#fff" stroke="#2b2b2b" stroke-width="1.0" />
<circle cx="158" cy="143.3" r="3.1" fill="#fff" stroke="#2b2b2b" stroke-width="1.1" />
<circle cx="158" cy="143.3" r="1.1" fill="#222" stroke="#2b2b2b" stroke-width="0" />
<circle cx="138.5" cy="113.2" r="6.2" fill="#fff" stroke="#2b2b2b" stroke-width="1.0" />
<circle cx="138.5" cy="113.2" r="3.1" fill="#fff" stroke="#2b2b2b" stroke-width="1.1" />
<circle cx="138.5" cy="113.2" r="1.1" fill="#222" stroke="#2b2b2b" stroke-width="0" />
<circle cx="140.7" cy="125" r="6.2" fill="#fff" stroke="#2b2b2b" stroke-width="1.0" />
<circle cx="140.7" cy="125" r="3.1" fill="#fff" stroke="#2b2b2b" stroke-width="1.1" />
<circle cx="140.7" cy="125" r="1.1" fill="#222" stroke="#2b2b2b" stroke-width="0" />
<circle cx="146.7" cy="136.7" r="6.2" fill="#fff" stroke="#2b2b2b" stroke-width="1.0" />
<circle cx="146.7" cy="136.7" r="3.1" fill="#fff" stroke="#2b2b2b" stroke-width="1.1" />
<circle cx="146.7" cy="136.7" r="1.1" fill="#222" stroke="#2b2b2b" stroke-width="0" />
<circle cx="128.3" cy="107" r="6.2" fill="#fff" stroke="#2b2b2b" stroke-width="1.0" />
<circle cx="128.3" cy="107" r="3.1" fill="#fff" stroke="#2b2b2b" stroke-width="1.1" />
<circle cx="128.3" cy="107" r="1.1" fill="#222" stroke="#2b2b2b" stroke-width="0" />
<circle cx="152.7" cy="148" r="6.2" fill="#fff" stroke="#2b2b2b" stroke-width="1.0" />
<circle cx="152.7" cy="148" r="3.1" fill="#fff" stroke="#2b2b2b" stroke-width="1.1" />
<circle cx="152.7" cy="148" r="1.1" fill="#222" stroke="#2b2b2b" stroke-width="0" />
<circle cx="156.7" cy="160.7" r="6.2" fill="#fff" stroke="#2b2b2b" stroke-width="1.0" />
<circle cx="156.7" cy="160.7" r="3.1" fill="#fff" stroke="#2b2b2b" stroke-width="1.1" />
<circle cx="156.7" cy="160.7" r="1.1" fill="#222" stroke="#2b2b2b" stroke-width="0" />
<circle cx="130.8" cy="119.2" r="6.2" fill="#fff" stroke="#2b2b2b" stroke-width="1.0" />
<circle cx="130.8" cy="119.2" r="3.1" fill="#fff" stroke="#2b2b2b" stroke-width="1.1" />
<circle cx="130.8" cy="119.2" r="1.1" fill="#222" stroke="#2b2b2b" stroke-width="0" />
<circle cx="136" cy="131" r="6.2" fill="#fff" stroke="#2b2b2b" stroke-width="1.0" />
<circle cx="136" cy="131" r="3.1" fill="#fff" stroke="#2b2b2b" stroke-width="1.1" />
<circle cx="136" cy="131" r="1.1" fill="#222" stroke="#2b2b2b" stroke-width="0" />
<circle cx="117.1" cy="101.2" r="6.2" fill="#fff" stroke="#2b2b2b" stroke-width="1.0" />
<circle cx="117.1" cy="101.2" r="3.1" fill="#fff" stroke="#2b2b2b" stroke-width="1.1" />
<circle cx="117.1" cy="101.2" r="1.1" fill="#222" stroke="#2b2b2b" stroke-width="0" />
<circle cx="141.3" cy="142" r="6.2" fill="#fff" stroke="#2b2b2b" stroke-width="1.0" />
<circle cx="141.3" cy="142" r="3.1" fill="#fff" stroke="#2b2b2b" stroke-width="1.1" />
<circle cx="141.3" cy="142" r="1.1" fill="#222" stroke="#2b2b2b" stroke-width="0" />
<circle cx="121.3" cy="113.3" r="6.2" fill="#fff" stroke="#2b2b2b" stroke-width="1.0" />
<circle cx="121.3" cy="113.3" r="3.1" fill="#fff" stroke="#2b2b2b" stroke-width="1.1" />
<circle cx="121.3" cy="113.3" r="1.1" fill="#222" stroke="#2b2b2b" stroke-width="0" />
<circle cx="144.7" cy="155.3" r="6.2" fill="#fff" stroke="#2b2b2b" stroke-width="1.0" />
<circle cx="144.7" cy="155.3" r="3.1" fill="#fff" stroke="#2b2b2b" stroke-width="1.1" />
<circle cx="144.7" cy="155.3" r="1.1" fill="#222" stroke="#2b2b2b" stroke-width="0" />
<circle cx="126.5" cy="125.5" r="6.2" fill="#fff" stroke="#2b2b2b" stroke-width="1.0" />
<circle cx="126.5" cy="125.5" r="3.1" fill="#fff" stroke="#2b2b2b" stroke-width="1.1" />
<circle cx="126.5" cy="125.5" r="1.1" fill="#222" stroke="#2b2b2b" stroke-width="0" />
<circle cx="130.5" cy="136" r="6.2" fill="#fff" stroke="#2b2b2b" stroke-width="1.0" />
<circle cx="130.5" cy="136" r="3.1" fill="#fff" stroke="#2b2b2b" stroke-width="1.1" />
<circle cx="130.5" cy="136" r="1.1" fill="#222" stroke="#2b2b2b" stroke-width="0" />
<circle cx="109.6" cy="107.4" r="6.2" fill="#fff" stroke="#2b2b2b" stroke-width="1.0" />
<circle cx="109.6" cy="107.4" r="3.1" fill="#fff" stroke="#2b2b2b" stroke-width="1.1" />
<circle cx="109.6" cy="107.4" r="1.1" fill="#222" stroke="#2b2b2b" stroke-width="0" />
<circle cx="134" cy="149.3" r="6.2" fill="#fff" stroke="#2b2b2b" stroke-width="1.0" />
<circle cx="134" cy="149.3" r="3.1" fill="#fff" stroke="#2b2b2b" stroke-width="1.1" />
<circle cx="134" cy="149.3" r="1.1" fill="#222" stroke="#2b2b2b" stroke-width="0" />
<circle cx="115.3" cy="119.7" r="6.2" fill="#fff" stroke="#2b2b2b" stroke-width="1.0" />
<circle cx="115.3" cy="119.7" r="3.1" fill="#fff" stroke="#2b2b2b" stroke-width="1.1" />
<circle cx="115.3" cy="119.7" r="1.1" fill="#222" stroke="#2b2b2b" stroke-width="0" />
<circle cx="120.8" cy="130.2" r="6.2" fill="#fff" stroke="#2b2b2b" stroke-width="1.0" />
<circle cx="120.8" cy="130.2" r="3.1" fill="#fff" stroke="#2b2b2b" stroke-width="1.1" />
<circle cx="120.8" cy="130.2" r="1.1" fill="#222" stroke="#2b2b2b" stroke-width="0" />
<circle cx="124" cy="142.8" r="6.2" fill="#fff" stroke="#2b2b2b" stroke-width="1.0" />
<circle cx="124" cy="142.8" r="3.1" fill="#fff" stroke="#2b2b2b" stroke-width="1.1" />
<circle cx="124" cy="142.8" r="1.1" fill="#222" stroke="#2b2b2b" stroke-width="0" />
<circle cx="108.5" cy="124.3" r="6.2" fill="#fff" stroke="#2b2b2b" stroke-width="1.0" />
<circle cx="108.5" cy="124.3" r="3.1" fill="#fff" stroke="#2b2b2b" stroke-width="1.1" />
<circle cx="108.5" cy="124.3" r="1.1" fill="#222" stroke="#2b2b2b" stroke-width="0" />
<circle cx="112.5" cy="136.5" r="6.2" fill="#fff" stroke="#2b2b2b" stroke-width="1.0" />
<circle cx="112.5" cy="136.5" r="3.1" fill="#fff" stroke="#2b2b2b" stroke-width="1.1" />
<circle cx="112.5" cy="136.5" r="1.1" fill="#222" stroke="#2b2b2b" stroke-width="0" />
</g>
<path d="M105.2,106 Q104.2,118 104.6,126 Q105.3,137 112,145" fill="none" stroke="#2b2b2b" stroke-width="1.4" />
<path d="M179.7,111 L196,100.5 L210,104.5 L187,113.5 Z" fill="#fff" stroke="#2b2b2b" stroke-width="1.1" />
<path d="M179.7,111 L187,113.5 L187.5,180 L180,176 Z" fill="#fff" stroke="#2b2b2b" stroke-width="1.1" />
<path d="M187,113.5 L205.3,107 L206.5,115.8 L210,117 L210,152 L206,153 L206,160 L208,163.5 L187.5,180 Z" fill="#fff" stroke="#2b2b2b" stroke-width="1.1" />
<circle cx="189.5" cy="114.8" r="2.3" fill="#111" stroke="#2b2b2b" stroke-width="0" />
<circle cx="203.8" cy="106.8" r="2.3" fill="#111" stroke="#2b2b2b" stroke-width="0" />
<circle cx="189.8" cy="176" r="2.0" fill="#111" stroke="#2b2b2b" stroke-width="0" />
<circle cx="204.3" cy="166.5" r="2.0" fill="#111" stroke="#2b2b2b" stroke-width="0" />
</g>
</svg>
</body></html>
